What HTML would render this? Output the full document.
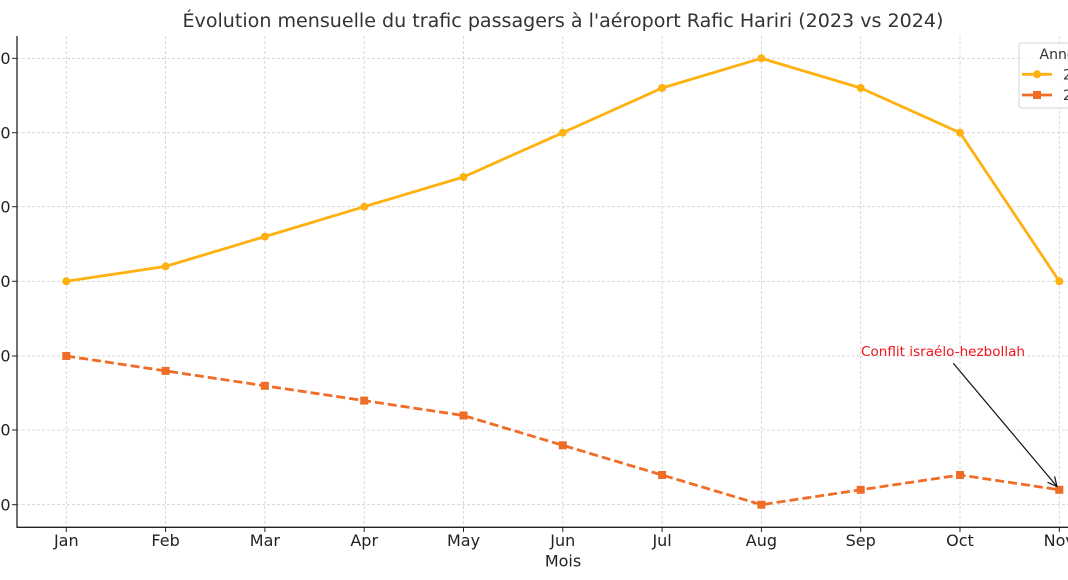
<!DOCTYPE html>
<html><head><meta charset="utf-8"><style>
html,body{margin:0;padding:0;background:#fff;}
svg{display:block;font-family:"DejaVu Sans","Liberation Sans",sans-serif;}
</style></head><body>
<svg width="1068" height="580" viewBox="0 0 1068 580" xmlns="http://www.w3.org/2000/svg">
<rect width="1068" height="580" fill="#fff"/>
<text x="563" y="27" font-size="18.5" fill="#333" text-anchor="middle" textLength="761" lengthAdjust="spacingAndGlyphs">Évolution mensuelle du trafic passagers à l'aéroport Rafic Hariri (2023 vs 2024)</text>
<g stroke="#cfcfcf" stroke-width="0.8" stroke-dasharray="3,2">
<line x1="66.3" y1="36" x2="66.3" y2="527"/>
<line x1="165.6" y1="36" x2="165.6" y2="527"/>
<line x1="264.9" y1="36" x2="264.9" y2="527"/>
<line x1="364.2" y1="36" x2="364.2" y2="527"/>
<line x1="463.5" y1="36" x2="463.5" y2="527"/>
<line x1="562.8" y1="36" x2="562.8" y2="527"/>
<line x1="662.1" y1="36" x2="662.1" y2="527"/>
<line x1="761.4" y1="36" x2="761.4" y2="527"/>
<line x1="860.7" y1="36" x2="860.7" y2="527"/>
<line x1="960" y1="36" x2="960" y2="527"/>
<line x1="1059.3" y1="36" x2="1059.3" y2="527"/>
<line x1="17" y1="58.3" x2="1068" y2="58.3"/>
<line x1="17" y1="132.7" x2="1068" y2="132.7"/>
<line x1="17" y1="206.7" x2="1068" y2="206.7"/>
<line x1="17" y1="281.3" x2="1068" y2="281.3"/>
<line x1="17" y1="356" x2="1068" y2="356"/>
<line x1="17" y1="430" x2="1068" y2="430"/>
<line x1="17" y1="504.7" x2="1068" y2="504.7"/>
</g>
<g stroke="#222" stroke-width="1.3">
<line x1="17" y1="36" x2="17" y2="527.5"/>
<line x1="16.5" y1="527.3" x2="1068" y2="527.3"/>
</g>
<g stroke="#222" stroke-width="1">
<line x1="12" y1="58.3" x2="17" y2="58.3"/>
<line x1="12" y1="132.7" x2="17" y2="132.7"/>
<line x1="12" y1="206.7" x2="17" y2="206.7"/>
<line x1="12" y1="281.3" x2="17" y2="281.3"/>
<line x1="12" y1="356" x2="17" y2="356"/>
<line x1="12" y1="430" x2="17" y2="430"/>
<line x1="12" y1="504.7" x2="17" y2="504.7"/>
<line x1="66.3" y1="527" x2="66.3" y2="532"/>
<line x1="165.6" y1="527" x2="165.6" y2="532"/>
<line x1="264.9" y1="527" x2="264.9" y2="532"/>
<line x1="364.2" y1="527" x2="364.2" y2="532"/>
<line x1="463.5" y1="527" x2="463.5" y2="532"/>
<line x1="562.8" y1="527" x2="562.8" y2="532"/>
<line x1="662.1" y1="527" x2="662.1" y2="532"/>
<line x1="761.4" y1="527" x2="761.4" y2="532"/>
<line x1="860.7" y1="527" x2="860.7" y2="532"/>
<line x1="960" y1="527" x2="960" y2="532"/>
<line x1="1059.3" y1="527" x2="1059.3" y2="532"/>
</g>
<g font-size="16" fill="#222" text-anchor="end">
<text x="10.5" y="64">70000</text>
<text x="10.5" y="138.5">60000</text>
<text x="10.5" y="212.5">50000</text>
<text x="10.5" y="287">40000</text>
<text x="10.5" y="361.5">30000</text>
<text x="10.5" y="435.5">20000</text>
<text x="10.5" y="510.5">10000</text>
</g>
<g font-size="16" fill="#222" text-anchor="middle">
<text x="66.3" y="546">Jan</text>
<text x="165.6" y="546">Feb</text>
<text x="264.9" y="546">Mar</text>
<text x="364.2" y="546">Apr</text>
<text x="463.5" y="546">May</text>
<text x="562.8" y="546">Jun</text>
<text x="662.1" y="546">Jul</text>
<text x="761.4" y="546">Aug</text>
<text x="860.7" y="546">Sep</text>
<text x="960" y="546">Oct</text>
<text x="1059.3" y="546">Nov</text>
<text x="563" y="566.5">Mois</text>
</g>
<polyline fill="none" stroke="#FFB20F" stroke-width="2.8" stroke-linejoin="round" points="66.3,281.3 165.6,266.4 264.9,236.6 364.2,206.7 463.5,177 562.8,132.7 662.1,88 761.4,58.3 860.7,88 960,132.7 1059.3,281.3"/>
<g fill="#FFB20F">
<circle cx="66.3" cy="281.3" r="4"/><circle cx="165.6" cy="266.4" r="4"/><circle cx="264.9" cy="236.6" r="4"/><circle cx="364.2" cy="206.7" r="4"/><circle cx="463.5" cy="177" r="4"/><circle cx="562.8" cy="132.7" r="4"/><circle cx="662.1" cy="88" r="4"/><circle cx="761.4" cy="58.3" r="4"/><circle cx="860.7" cy="88" r="4"/><circle cx="960" cy="132.7" r="4"/><circle cx="1059.3" cy="281.3" r="4"/>
</g>
<polyline fill="none" stroke="#EF6D26" stroke-width="2.8" stroke-dasharray="9,4" points="66.3,356 165.6,370.9 264.9,385.8 364.2,400.6 463.5,415.5 562.8,445.3 662.1,475 761.4,504.7 860.7,489.8 960,475 1059.3,489.8"/>
<g fill="#EF6D26">
<rect x="62.3" y="352" width="8" height="8"/><rect x="161.6" y="366.9" width="8" height="8"/><rect x="260.9" y="381.8" width="8" height="8"/><rect x="360.2" y="396.6" width="8" height="8"/><rect x="459.5" y="411.5" width="8" height="8"/><rect x="558.8" y="441.3" width="8" height="8"/><rect x="658.1" y="471" width="8" height="8"/><rect x="757.4" y="500.7" width="8" height="8"/><rect x="856.7" y="485.8" width="8" height="8"/><rect x="956" y="471" width="8" height="8"/><rect x="1055.3" y="485.8" width="8" height="8"/>
</g>
<text x="861" y="356" font-size="13" fill="#F0141E" textLength="164" lengthAdjust="spacingAndGlyphs">Conflit israélo-hezbollah</text>
<line x1="953.3" y1="363.3" x2="1057" y2="486.5" stroke="#111" stroke-width="1.2"/>
<polyline points="1047.5,482.3 1057,486.5 1054.6,476.4" fill="none" stroke="#111" stroke-width="1.2"/>
<rect x="1019" y="43" width="60" height="65" rx="3" fill="#fff" fill-opacity="0.85" stroke="#d4d4d4" stroke-width="1"/>
<text x="1039.5" y="59" font-size="14" fill="#333">Année</text>
<line x1="1022" y1="74.3" x2="1052" y2="74.3" stroke="#FFB20F" stroke-width="2.8"/>
<circle cx="1037" cy="74.3" r="4" fill="#FFB20F"/>
<text x="1063" y="79.5" font-size="14" fill="#333">2023</text>
<line x1="1022" y1="95" x2="1052" y2="95" stroke="#EF6D26" stroke-width="2.8"/>
<rect x="1033" y="91" width="8" height="8" fill="#EF6D26"/>
<text x="1063" y="100" font-size="14" fill="#333">2024</text>
</svg>
</body></html>
